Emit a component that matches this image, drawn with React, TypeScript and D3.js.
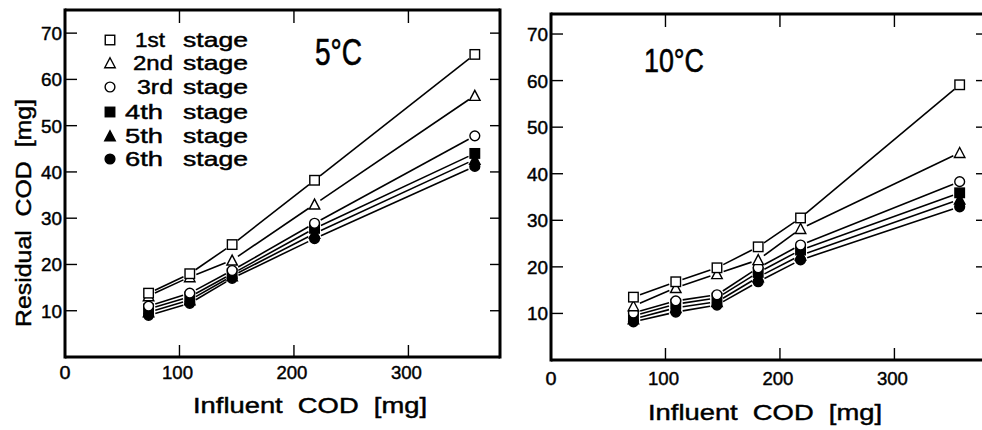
import React from "react";
import * as d3 from "d3";

const stageLabels = ["1st", "2nd", "3rd", "4th", "5th", "6th"];
const stageWord = "stage";
const markerTypes = ["openSquare", "openTriangle", "openCircle", "square", "triangle", "circle"];

const xTicks = [0, 100, 200, 300];
const yTicks = [10, 20, 30, 40, 50, 60, 70];

// 5°C panel
const influent5 = [73, 109, 146, 218, 358];
const s5_1 = [13.8, 18.0, 24.3, 38.2, 65.4];
const s5_2 = [13.2, 17.3, 20.9, 33.0, 56.5];
const s5_3 = [11.0, 13.8, 18.7, 28.9, 47.8];
const s5_4 = [10.4, 13.0, 18.0, 27.8, 44.0];
const s5_5 = [9.7, 12.3, 17.5, 26.7, 42.7];
const s5_6 = [9.0, 11.6, 17.0, 25.6, 41.2];

// 10°C panel
const influent10 = [72, 109, 145, 181, 218, 357];
const s10_1 = [13.5, 16.8, 19.8, 24.3, 30.5, 59.1];
const s10_2 = [11.6, 15.5, 18.5, 21.5, 28.2, 44.5];
const s10_3 = [10.1, 12.7, 14.0, 19.8, 24.7, 38.3];
const s10_4 = [9.5, 12.0, 13.3, 18.8, 23.6, 35.9];
const s10_5 = [8.8, 11.2, 12.5, 17.8, 22.5, 34.5];
const s10_6 = [8.2, 10.3, 11.8, 16.8, 21.5, 32.9];

const FONT = "'Liberation Sans', Arial, sans-serif";
const TXT = { fontFamily: FONT, stroke: "#000", strokeWidth: 0.45 } as const;

function Marker({ type, x, y }: { type: string; x: number; y: number }) {
  const s = 9.5;
  const filled = !type.startsWith("open");
  const fill = filled ? "#000" : "#fff";
  const sw = 1.4;
  if (type.toLowerCase().endsWith("square")) {
    return <rect x={x - s / 2} y={y - s / 2} width={s} height={s} fill={fill} stroke="#000" strokeWidth={sw} />;
  }
  if (type.toLowerCase().endsWith("triangle")) {
    const h = 9.5;
    const w = 10.5;
    const p = `${x},${y - h / 2 - 0.5} ${x + w / 2},${y + h / 2} ${x - w / 2},${y + h / 2}`;
    return <polygon points={p} fill={fill} stroke="#000" strokeWidth={sw} />;
  }
  return <circle cx={x} cy={y} r={4.9} fill={fill} stroke="#000" strokeWidth={sw} />;
}

type PanelProps = {
  xs: number[];
  series: number[][];
  left: number;
  right: number;
  top: number;
  bottom: number;
  yMax: number;
  title: string;
  titleX: number;
  titleY: number;
  titleLen: number;
  titleSize: number;
  showLegend: boolean;
  xLabelY: number;
  xTitleX: number;
  xTitleY: number;
};

function Panel(p: PanelProps) {
  const x = d3.scaleLinear().domain([0, 380]).range([p.left, p.right]);
  const y = d3.scaleLinear().domain([0, p.yMax]).range([p.bottom, p.top]);
  const gap = 7;
  const segs: { x1: number; y1: number; x2: number; y2: number }[] = [];
  p.series.forEach((vals) => {
    for (let i = 0; i < vals.length - 1; i++) {
      const ax = x(p.xs[i]), ay = y(vals[i]);
      const bx = x(p.xs[i + 1]), by = y(vals[i + 1]);
      const dx = bx - ax, dy = by - ay;
      const len = Math.hypot(dx, dy);
      const ux = dx / len, uy = dy / len;
      segs.push({ x1: ax + ux * gap, y1: ay + uy * gap, x2: bx - ux * gap, y2: by - uy * gap });
    }
  });
  const axisW = 3;
  return (
    <g>
      <line x1={p.left} y1={p.top} x2={p.right} y2={p.top} stroke="#000" strokeWidth={axisW} />
      <line x1={p.left} y1={p.bottom} x2={p.right} y2={p.bottom} stroke="#000" strokeWidth={axisW} />
      <line x1={p.left} y1={p.top - 1.5} x2={p.left} y2={p.bottom + 1.5} stroke="#000" strokeWidth={axisW} />
      <line x1={p.right} y1={p.top - 1.5} x2={p.right} y2={p.bottom + 1.5} stroke="#000" strokeWidth={axisW} />
      {yTicks.map((t) => (
        <g key={"y" + t}>
          <line x1={p.left} x2={p.left + 12} y1={y(t)} y2={y(t)} stroke="#000" strokeWidth={1.4} />
          <line x1={p.right - 10} x2={p.right} y1={y(t)} y2={y(t)} stroke="#000" strokeWidth={1.4} />
          <text x={p.left - 3} y={y(t) + 7} textAnchor="end" {...TXT} fontSize={19} textLength={21} lengthAdjust="spacingAndGlyphs">{t}</text>
        </g>
      ))}
      {xTicks.map((t) => (
        <g key={"x" + t}>
          {t > 0 && <line x1={x(t)} x2={x(t)} y1={p.bottom} y2={p.bottom - 12} stroke="#000" strokeWidth={1.4} />}
          {t > 0 && <line x1={x(t)} x2={x(t)} y1={p.top} y2={p.top + 13} stroke="#000" strokeWidth={1.4} />}
          <text x={x(t) - (t > 0 ? 2 : 0)} y={p.xLabelY} textAnchor="middle" {...TXT} fontSize={19} textLength={t > 0 ? 31 : 11} lengthAdjust="spacingAndGlyphs">{t}</text>
        </g>
      ))}
      {segs.map((s, i) => (
        <line key={"s" + i} x1={s.x1} y1={s.y1} x2={s.x2} y2={s.y2} stroke="#000" strokeWidth={1.6} />
      ))}
      {p.series.map((vals, si) =>
        vals.map((v, i) => <Marker key={`m${si}-${i}`} type={markerTypes[si]} x={x(p.xs[i])} y={y(v)} />)
      ).reverse()}
      <text x={p.titleX} y={p.titleY} {...TXT} strokeWidth={0.6} fontSize={p.titleSize} textLength={p.titleLen} lengthAdjust="spacingAndGlyphs">{p.title}</text>
      <text x={p.xTitleX} y={p.xTitleY} {...TXT} fontSize={22} textLength={234} lengthAdjust="spacingAndGlyphs" xmlSpace="preserve">{"Influent  COD  [mg]"}</text>
      {p.showLegend && (
        <g>
          {stageLabels.map((lab, i) => {
            const ly = [40, 63, 87, 112, 136, 159][i];
            const lx = i < 3 ? [135, 133, 137][i] : 125;
            const lw = [30, 40, 36, 38, 38, 38][i];
            return (
              <g key={"l" + i}>
                <Marker type={markerTypes[i]} x={110} y={ly} />
                <text x={lx} y={ly + 7} {...TXT} fontSize={20} textLength={lw} lengthAdjust="spacingAndGlyphs">{lab}</text>
                <text x={183} y={ly + 7} {...TXT} fontSize={20} textLength={65} lengthAdjust="spacingAndGlyphs">{stageWord}</text>
              </g>
            );
          })}
        </g>
      )}
    </g>
  );
}

export default function App() {
  return (
    <svg width={982} height={430} style={{ position: "absolute", left: 0, top: 0, background: "#fff" }}>
      <rect x={0} y={0} width={982} height={430} fill="#fff" />
      <Panel
        xs={influent5}
        series={[s5_1, s5_2, s5_3, s5_4, s5_5, s5_6]}
        left={65}
        right={500}
        top={10}
        bottom={357}
        yMax={75}
        title="5°C"
        titleX={315}
        titleY={65}
        titleLen={47}
        titleSize={36}
        showLegend={true}
        xLabelY={379}
        xTitleX={193}
        xTitleY={413}
      />
      <Panel
        xs={influent10}
        series={[s10_1, s10_2, s10_3, s10_4, s10_5, s10_6]}
        left={551}
        right={986}
        top={14}
        bottom={360}
        yMax={74.3}
        title="10°C"
        titleX={644}
        titleY={72}
        titleLen={60}
        titleSize={34}
        showLegend={false}
        xLabelY={385}
        xTitleX={648}
        xTitleY={420}
      />
      <text transform="translate(31,213) rotate(-90)" textAnchor="middle" {...TXT} fontSize={22} textLength={228} lengthAdjust="spacingAndGlyphs" xmlSpace="preserve">{"Residual  COD  [mg]"}</text>
    </svg>
  );
}
